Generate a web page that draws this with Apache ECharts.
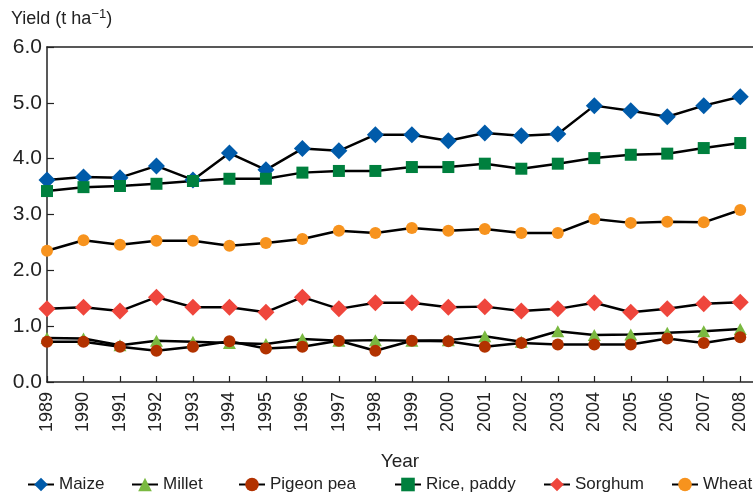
<!DOCTYPE html>
<html><head><meta charset="utf-8">
<script src="https://cdn.jsdelivr.net/npm/echarts@6/dist/echarts.min.js"></script>
<style>html,body{margin:0;padding:0;background:#fff}#c{width:753px;height:495px}</style>
</head><body><div id="c"></div>
<script>
var years = [1989,1990,1991,1992,1993,1994,1995,1996,1997,1998,1999,2000,2001,2002,2003,2004,2005,2006,2007,2008];
var maize = [3.62,3.67,3.66,3.87,3.62,4.10,3.80,4.18,4.14,4.43,4.43,4.32,4.46,4.41,4.44,4.95,4.86,4.75,4.95,5.11];
var millet = [0.79,0.78,0.66,0.74,0.72,0.70,0.68,0.77,0.74,0.75,0.74,0.75,0.82,0.72,0.91,0.84,0.85,0.88,0.91,0.95];
var pigeonPea = [0.72,0.72,0.63,0.56,0.63,0.73,0.60,0.63,0.74,0.56,0.74,0.73,0.63,0.70,0.67,0.67,0.67,0.78,0.70,0.80];
var rice = [3.42,3.49,3.51,3.55,3.60,3.64,3.64,3.75,3.78,3.78,3.85,3.85,3.91,3.82,3.91,4.01,4.07,4.09,4.19,4.28];
var sorghum = [1.31,1.34,1.27,1.52,1.34,1.34,1.25,1.52,1.31,1.42,1.42,1.34,1.35,1.27,1.31,1.42,1.25,1.31,1.40,1.43];
var wheat = [2.35,2.54,2.46,2.53,2.53,2.44,2.49,2.56,2.71,2.67,2.76,2.71,2.74,2.67,2.67,2.92,2.85,2.87,2.86,3.08];
var yTicks = [0,1,2,3,4,5,6];

var FONT = 'Liberation Sans';
function pairs(arr){ return arr.map(function(v,i){ return [years[i], v]; }); }
var defs = [
  {name:'Maize', data:maize, color:'#005BAA', symbol:'diamond', size:[17,17]},
  {name:'Millet', data:millet, color:'#7AB940', symbol:'triangle', size:[13,12]},
  {name:'Pigeon pea', data:pigeonPea, color:'#B23200', symbol:'circle', size:12},
  {name:'Rice, paddy', data:rice, color:'#00803E', symbol:'rect', size:12},
  {name:'Sorghum', data:sorghum, color:'#EF463C', symbol:'diamond', size:[17,17]},
  {name:'Wheat', data:wheat, color:'#F7931E', symbol:'circle', size:12}
];
var series = defs.map(function(d){
  return {
    name:d.name, type:'line', data:pairs(d.data), symbol:d.symbol, symbolSize:d.size,
    itemStyle:{color:d.color}, lineStyle:{color:'#000', width:2.5}, showSymbol:true,
    emphasis:{disabled:true}, z:2
  };
});
var legendLefts = [27, 131, 238, 394, 543, 671];
var legends = defs.map(function(d,i){
  return {
    data:[d.name], left:legendLefts[i], top:476, itemWidth:26, itemHeight:17, itemGap:4,
    textStyle:{fontFamily:FONT, fontSize:17, color:'#222'}, selectedMode:false, padding:0
  };
});

var chart = echarts.init(document.getElementById('c'), null, {renderer:'canvas'});
chart.setOption({
  animation:false,
  backgroundColor:'#fff',
  grid:{left:47, right:0, top:47, bottom:113, containLabel:false},
  title:{text:'Yield (t ha{s|−1})', left:11, top:8, padding:0,
    textStyle:{fontFamily:FONT, fontSize:18, fontWeight:'normal', color:'#222',
      rich:{s:{fontFamily:FONT, fontSize:13, verticalAlign:'top', color:'#222', padding:[0,0,9,0]}}}},
  xAxis:[{
    type:'value', min:1989, max:2008.35, interval:1,
    axisLine:{show:true, lineStyle:{color:'#222', width:1.5}},
    axisTick:{show:true, inside:true, length:6, lineStyle:{color:'#222', width:1.2}, customValues:years},
    axisLabel:{rotate:90, fontFamily:FONT, fontSize:18, color:'#222', margin:10, customValues:years,
      formatter:function(v){ return String(v); }},
    splitLine:{show:false},
    name:'Year', nameLocation:'middle', nameGap:70,
    nameTextStyle:{fontFamily:FONT, fontSize:19, color:'#222'}
  },{
    type:'value', position:'top', min:0, max:1,
    axisLine:{show:true, lineStyle:{color:'#222', width:1.5}},
    axisTick:{show:false}, axisLabel:{show:false}, splitLine:{show:false}
  }],
  yAxis:{
    type:'value', min:0, max:6, interval:1,
    axisLine:{show:true, lineStyle:{color:'#222', width:1.5}},
    axisTick:{show:true, inside:true, length:7, lineStyle:{color:'#222', width:1.2}},
    axisLabel:{fontFamily:FONT, fontSize:21, color:'#222', margin:5,
      formatter:function(v){ return v.toFixed(1); }},
    splitLine:{show:false}
  },
  legend:legends,
  series:series
});
</script></body></html>
